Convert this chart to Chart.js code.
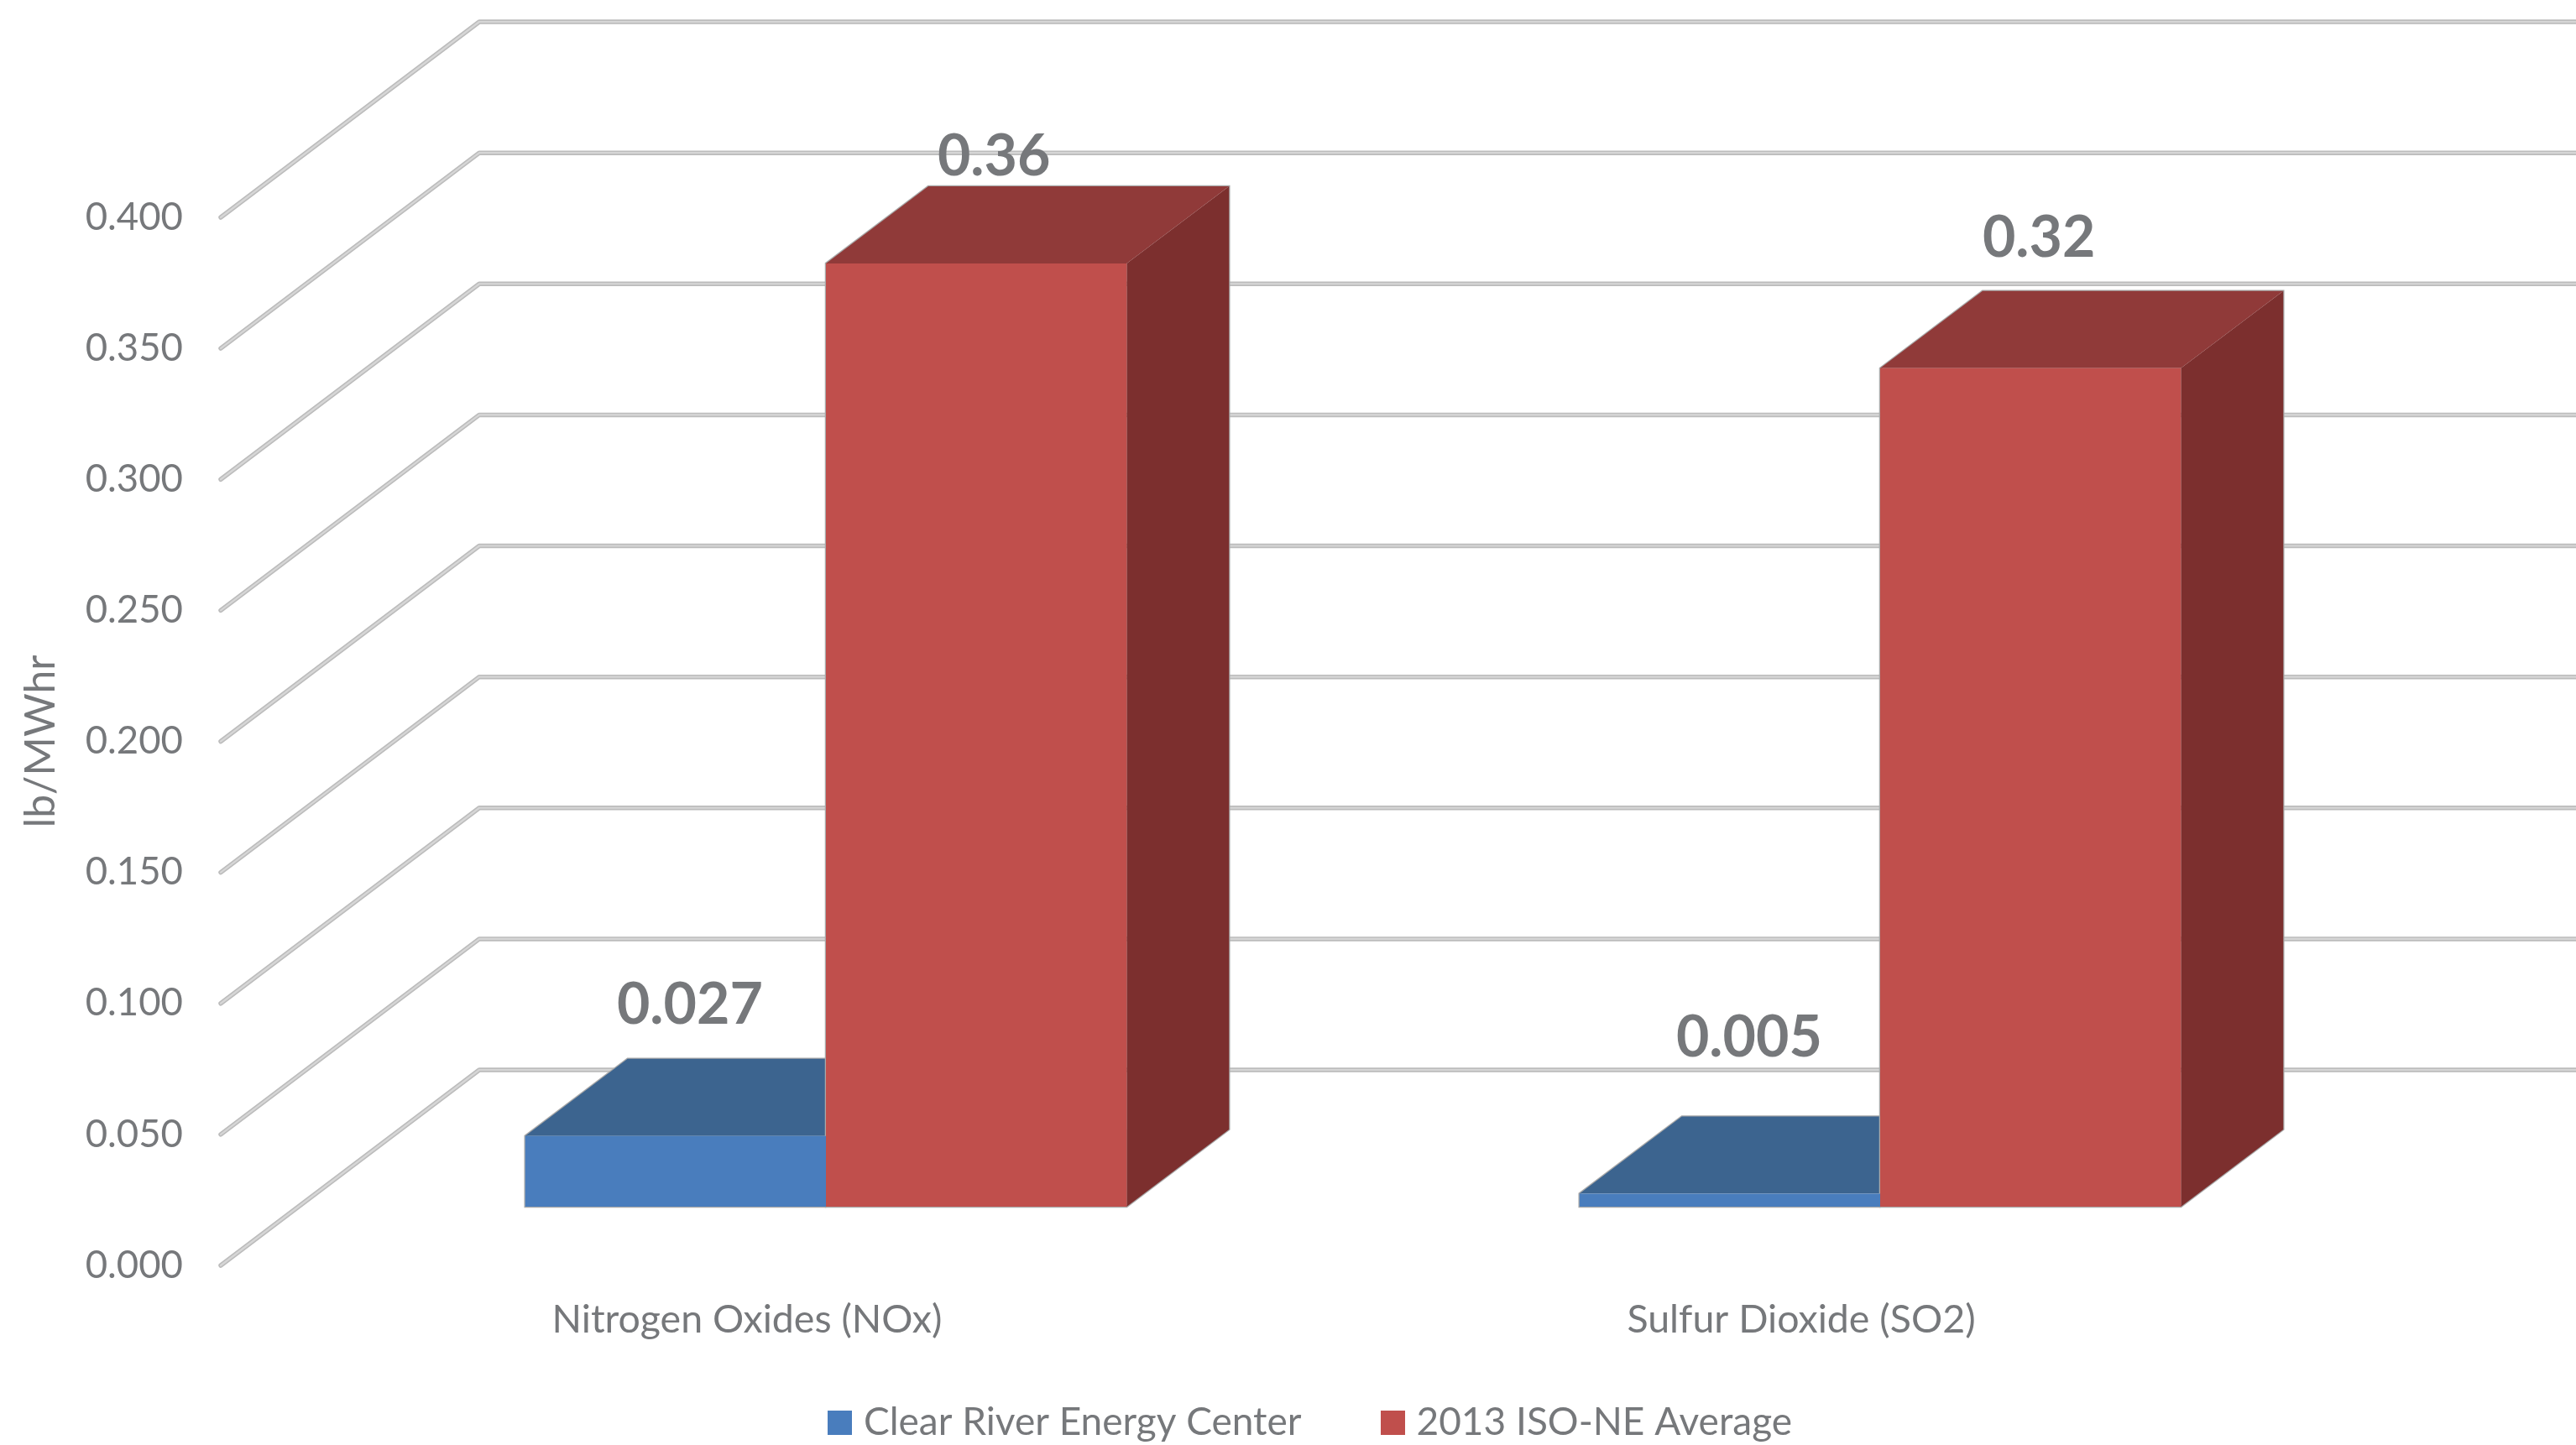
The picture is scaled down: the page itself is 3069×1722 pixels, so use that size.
<!DOCTYPE html>
<html><head><meta charset="utf-8">
<style>html,body{margin:0;padding:0;background:#fff}canvas{display:block}</style>
<script src="https://cdn.jsdelivr.net/npm/chart.js@4"></script>
</head><body>
<canvas id="c" width="3069" height="1722" style="width:3069px;height:1722px"></canvas>
<script>
const categories = ["Nitrogen Oxides (NOx)", "Sulfur Dioxide (SO2)"];
const seriesNames = ["Clear River Energy Center", "2013 ISO-NE Average"];
const clearRiver = [0.027, 0.005];
const isoNe = [0.36, 0.32];
const yTicks = [0, 0.05, 0.1, 0.15, 0.2, 0.25, 0.3, 0.35, 0.4];

const TEXT = '#76787b', FONT = 'Lato';
const FLOOR_SHIFT = -70;               // bars stand part-way back on the floor
const BAR_DX = 122, BAR_DY = -92;      // depth of each bar
const WALL_DX = 308, WALL_DY = -233;   // depth of the side wall
const WALL_LEFT = 93;                  // wall front edge, left of the plot
const shades = [
  {front:'#497dbd', top:'#3c648f', side:'#2f4f73'},
  {front:'#c04f4c', top:'#903a39', side:'#7c2f2e'}
];
const labelNudge = [[[17,-156],[23,-185]],[[21,-127],[10,-155]]];

function swatch(color){
  const s = document.createElement('canvas');
  s.width = 29; s.height = 29;
  const g = s.getContext('2d');
  g.fillStyle = color; g.fillRect(0,0,29,29);
  return s;
}

const threeD = {
  id:'threeD',
  afterInit(chart){
    const lg = chart.legend, f = lg.fit;
    lg.fit = function(){ f.call(this); this.height = 0; };
  },
  afterLayout(chart){
    const lg = chart.legend, p = lg.options.labels.padding;
    lg.left = 995 - p; lg.right = 3069; lg.top = 1672 - p; lg.bottom = 1722;
  },
  beforeDatasetsDraw(chart){
    const {ctx, chartArea:a, scales:{y}} = chart;
    const x0 = a.left - WALL_LEFT, x1 = x0 + WALL_DX;
    ctx.save();
    ctx.lineJoin = 'round'; ctx.lineCap = 'round';
    yTicks.forEach(v => {
      const py = y.getPixelForValue(v);
      [[5.5,'#bcbcbc'],[2.2,'#d6d6d6']].forEach(([w,c]) => {
        ctx.beginPath();
        ctx.moveTo(x0, py);
        ctx.lineTo(x1, py + WALL_DY);
        ctx.lineTo(chart.width + 5, py + WALL_DY);
        ctx.lineWidth = w; ctx.strokeStyle = c; ctx.stroke();
      });
    });
    ctx.restore();
    ctx.save();
    ctx.translate(0, FLOOR_SHIFT);
    chart.data.datasets.forEach((ds, i) => {
      chart.getDatasetMeta(i).data.forEach(b => {
        const l = b.x - b.width/2, r = b.x + b.width/2, t = b.y, u = b.base;
        const poly = (pts, fill) => {
          ctx.beginPath();
          pts.forEach((q, k) => k ? ctx.lineTo(q[0], q[1]) : ctx.moveTo(q[0], q[1]));
          ctx.closePath();
          if (fill) { ctx.fillStyle = fill; ctx.fill(); }
        };
        poly([[l,u],[l,t],[l+BAR_DX,t+BAR_DY],[r+BAR_DX,t+BAR_DY],[r+BAR_DX,u+BAR_DY],[r,u]]);
        ctx.lineWidth = 2.5; ctx.strokeStyle = '#a9a9a9'; ctx.lineJoin = 'miter'; ctx.stroke();
        poly([[l,t],[l+BAR_DX,t+BAR_DY],[r+BAR_DX,t+BAR_DY],[r,t]], shades[i].top);
        poly([[r,t],[r+BAR_DX,t+BAR_DY],[r+BAR_DX,u+BAR_DY],[r,u]], shades[i].side);
      });
    });
  },
  afterDatasetsDraw(chart){
    const {ctx} = chart;
    ctx.restore();
    ctx.save();
    ctx.font = 'bold 68px ' + FONT;
    ctx.fillStyle = TEXT;
    ctx.textAlign = 'center';
    ctx.textBaseline = 'middle';
    chart.data.datasets.forEach((ds, i) => {
      chart.getDatasetMeta(i).data.forEach((b, j) => {
        ctx.fillText(String(ds.data[j]), b.x + labelNudge[i][j][0], b.y + FLOOR_SHIFT + labelNudge[i][j][1]);
      });
    });
    ctx.restore();
  }
};

new Chart(document.getElementById('c'), {
  type:'bar',
  data:{
    labels:categories,
    datasets:[
      {label:seriesNames[0], data:clearRiver, backgroundColor:shades[0].front, borderWidth:0},
      {label:seriesNames[1], data:isoNe, backgroundColor:shades[1].front, borderWidth:0}
    ]
  },
  options:{
    responsive:false, animation:false, devicePixelRatio:1,
    layout:{padding:{left:0, top:259, right:201, bottom:0}},
    datasets:{bar:{categoryPercentage:0.5705, barPercentage:1, clip:false}},
    scales:{
      x:{
        grid:{display:false}, border:{display:false},
        ticks:{color:TEXT, font:{family:FONT, size:46.5}, padding:29, labelOffset:-94, maxRotation:0},
        afterFit(s){ s.height = 214; }
      },
      y:{
        min:0, max:0.4,
        grid:{display:false}, border:{display:false},
        ticks:{color:TEXT, font:{family:FONT, size:45.5}, padding:130, stepSize:0.05,
               callback:v => Number(v).toFixed(3)},
        title:{display:true, text:'lb/MWhr', color:TEXT, font:{family:FONT, size:50}, padding:{top:19,bottom:0}},
        afterFit(s){ s.width = 356; }
      }
    },
    plugins:{
      tooltip:{enabled:false},
      legend:{
        display:true, position:'bottom', align:'start',
        labels:{color:TEXT, font:{family:FONT, size:46}, boxWidth:29, boxHeight:29, padding:103,
                usePointStyle:true, pointStyleWidth:11,
                generateLabels(chart){
                  return Chart.defaults.plugins.legend.labels.generateLabels(chart)
                    .map((it, i) => Object.assign(it, {pointStyle: swatch(shades[i].front)}));
                }}
      }
    }
  },
  plugins:[threeD]
});
</script>
</body></html>
